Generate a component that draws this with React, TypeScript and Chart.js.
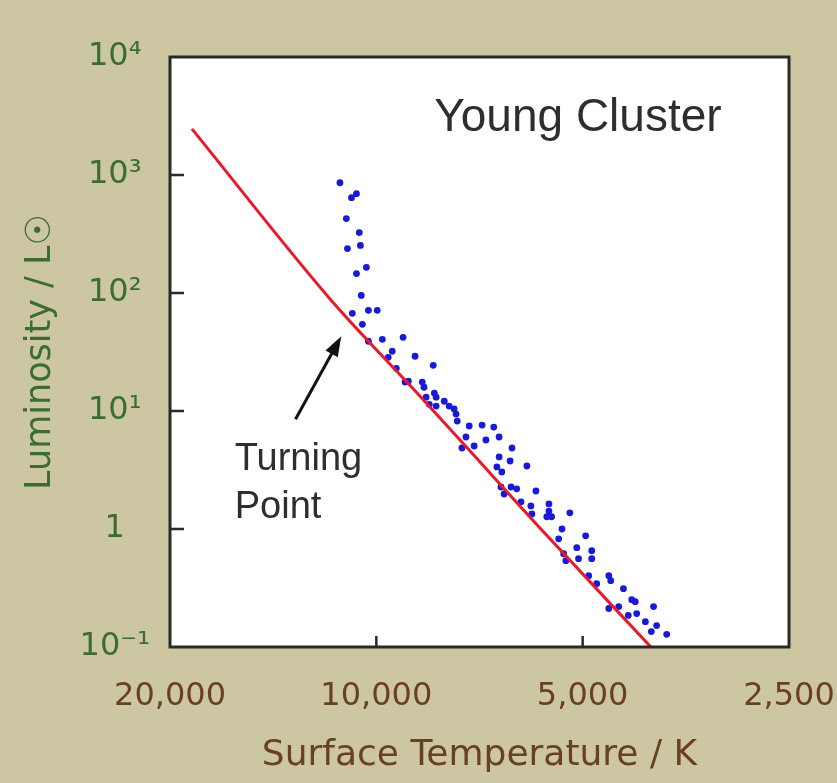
import React, { useEffect, useRef } from "react";
import { Chart, registerables } from "chart.js";

Chart.register(...registerables);

// Cluster stars: surface temperature (K) and luminosity (L_sun)
const STAR_TEMPS = [
  11300, 10870, 10690, 11060, 10590, 11020, 10550, 10690, 10340, 10520, 10840, 10270, 9970, 10480, 10270,
  9800, 9140, 9480, 9610, 8780, 9350, 8260, 8980, 9080, 8570, 8520, 8230, 8180, 7960, 8370, 8460, 8180,
  7830, 7700, 7650, 7620, 7320, 7010, 6740, 7400, 6920, 6620, 7500, 7200, 6340, 6620, 6380, 6030, 6670,
  6560, 6580, 6360, 6240, 5850, 6510, 6150, 5950, 5600, 5930, 5600, 5640, 5550, 5220, 5360, 5420, 4950,
  5100, 5330, 4850, 5070, 4850, 5290, 4900, 4580, 4770, 4550, 4360, 4240, 4190, 3940, 4580, 4430, 4290,
  4170, 4050, 3900, 3970, 3770,
];
const STAR_LUMS = [
  860, 643, 695, 427, 325, 238, 253, 146, 165, 95.4, 67.2, 71.3, 71.3, 54.3, 39.0,
  40.5, 42.1, 32.1, 28.5, 29.1, 23.0, 24.4, 17.9, 17.6, 17.6, 15.9, 14.2, 13.1, 12.1, 11.4, 13.1, 11.0,
  11.0, 10.4, 9.41, 8.22, 7.46, 7.6, 7.31, 6.02, 5.68, 6.02, 4.86, 5.05, 4.86, 4.08, 3.77, 3.42, 3.36,
  3.04, 2.27, 2.27, 2.19, 2.1, 1.98, 1.7, 1.57, 1.63, 1.34, 1.42, 1.27, 1.27, 1.37, 1.0, 0.826, 0.876,
  0.694, 0.617, 0.654, 0.56, 0.56, 0.539, 0.402, 0.402, 0.344, 0.365, 0.312, 0.252, 0.242, 0.22, 0.212, 0.22, 0.185,
  0.192, 0.164, 0.152, 0.135, 0.128,
];

// Main sequence (red curve)
const ZAMS_TEMPS = [18580, 11700, 8660, 7080, 5790, 3930];
const ZAMS_LUMS = [2460, 90, 13.6, 3.77, 1.04, 0.093];

const X_TICKS = [20000, 10000, 5000, 2500];
const X_TICK_LABELS = ["20,000", "10,000", "5,000", "2,500"];
const Y_TICKS = [0.1, 1, 10, 100, 1000, 10000];
const Y_TICK_LABELS = ["10⁻¹", "1", "10¹", "10²", "10³", "10⁴"];

const X_TITLE = "Surface Temperature / K";
const Y_TITLE = "Luminosity / L☉";
const CLUSTER_LABEL = "Young Cluster";
const CLUSTER_LABEL_AT = [8230, 2370];
const NOTE_LINES = ["Turning", "Point"];
const NOTE_AT_T = 16090;
const NOTE_AT_L = [3.17, 1.24];
const ARROW_FROM = [13120, 8.5];
const ARROW_TO = [11250, 43];

const BG = "#ccc7a2";
const GREEN = "#3b6c32";
const BROWN = "#6a3f22";

const decorPlugin = {
  id: "decor",
  beforeDraw(chart: any) {
    const { ctx, chartArea: a } = chart;
    ctx.save();
    ctx.fillStyle = BG;
    ctx.fillRect(0, 0, chart.width, chart.height);
    ctx.fillStyle = "#ffffff";
    ctx.fillRect(a.left, a.top, a.right - a.left, a.bottom - a.top);
    ctx.restore();
  },
  afterDraw(chart: any) {
    const { ctx, chartArea: a, scales } = chart;
    const xs = scales.x;
    const ys = scales.y;
    ctx.save();
    // frame
    ctx.strokeStyle = "#2a2a2a";
    ctx.lineWidth = 3;
    ctx.strokeRect(a.left, a.top, a.right - a.left, a.bottom - a.top);
    // inward ticks
    ctx.lineWidth = 2.5;
    ctx.beginPath();
    Y_TICKS.slice(1, -1).forEach((v) => {
      const y = ys.getPixelForValue(v);
      ctx.moveTo(a.left, y);
      ctx.lineTo(a.left + 14, y);
    });
    X_TICKS.slice(1, -1).forEach((v) => {
      const x = xs.getPixelForValue(v);
      ctx.moveTo(x, a.bottom);
      ctx.lineTo(x, a.bottom - 11);
    });
    ctx.stroke();

    // arrow
    const x0 = xs.getPixelForValue(ARROW_FROM[0]);
    const y0 = ys.getPixelForValue(ARROW_FROM[1]);
    const x1 = xs.getPixelForValue(ARROW_TO[0]);
    const y1 = ys.getPixelForValue(ARROW_TO[1]);
    const ang = Math.atan2(y1 - y0, x1 - x0);
    const headLen = 20;
    const headW = 7;
    const bx = x1 - headLen * Math.cos(ang);
    const by = y1 - headLen * Math.sin(ang);
    ctx.strokeStyle = "#111";
    ctx.fillStyle = "#111";
    ctx.lineWidth = 3;
    ctx.beginPath();
    ctx.moveTo(x0, y0);
    ctx.lineTo(bx, by);
    ctx.stroke();
    ctx.beginPath();
    ctx.moveTo(x1, y1);
    ctx.lineTo(bx + headW * Math.sin(ang), by - headW * Math.cos(ang));
    ctx.lineTo(bx - headW * Math.sin(ang), by + headW * Math.cos(ang));
    ctx.closePath();
    ctx.fill();

    // texts
    ctx.textBaseline = "alphabetic";
    ctx.textAlign = "left";
    ctx.fillStyle = "#2e2e2e";
    ctx.font = "46px 'Liberation Sans', Arial, sans-serif";
    ctx.fillText(CLUSTER_LABEL, xs.getPixelForValue(CLUSTER_LABEL_AT[0]), ys.getPixelForValue(CLUSTER_LABEL_AT[1]));
    ctx.font = "38px 'Liberation Sans', Arial, sans-serif";
    NOTE_LINES.forEach((t, i) => {
      ctx.fillText(t, xs.getPixelForValue(NOTE_AT_T), ys.getPixelForValue(NOTE_AT_L[i]));
    });
    ctx.restore();
  },
};

export default function App() {
  const ref = useRef<HTMLCanvasElement | null>(null);
  useEffect(() => {
    if (!ref.current) return;
    const chart = new Chart(ref.current, {
      type: "scatter",
      data: {
        datasets: [
          {
            label: "Stars",
            data: STAR_TEMPS.map((t, i) => ({ x: t, y: STAR_LUMS[i] })),
            pointRadius: 3.4,
            pointHoverRadius: 3.4,
            backgroundColor: "#1a1ad6",
            borderWidth: 0,
            order: 2,
          },
          {
            label: "Main sequence",
            data: ZAMS_TEMPS.map((t, i) => ({ x: t, y: ZAMS_LUMS[i] })),
            showLine: true,
            borderColor: "#e8192a",
            borderWidth: 3,
            pointRadius: 0,
            cubicInterpolationMode: "monotone",
            order: 1,
          } as any,
        ],
      },
      options: {
        animation: false,
        responsive: false,
        devicePixelRatio: 1,
        events: [],
        layout: { padding: { top: 57, right: 48, left: 0, bottom: 0 } },
        plugins: { legend: { display: false }, tooltip: { enabled: false } },
        scales: {
          x: {
            type: "logarithmic",
            reverse: true,
            min: 2500,
            max: 20000,
            afterBuildTicks: (s: any) => {
              s.ticks = X_TICKS.map((v) => ({ value: v }));
            },
            afterFit: (s: any) => {
              s.height = 136;
              s.paddingLeft = 0;
              s.paddingRight = 0;
            },
            grid: { display: false, drawTicks: false },
            border: { display: false },
            ticks: {
              autoSkip: false,
              maxRotation: 0,
              padding: 30,
              color: BROWN,
              font: { family: "'DejaVu Sans', Verdana, sans-serif", size: 32 },
              callback: (_v: any, i: number) => X_TICK_LABELS[i],
            },
            title: {
              display: true,
              text: X_TITLE,
              color: BROWN,
              font: { family: "'DejaVu Sans', Verdana, sans-serif", size: 36 },
              padding: { top: 0, bottom: 6 },
            },
          },
          y: {
            type: "logarithmic",
            min: 0.1,
            max: 10000,
            afterBuildTicks: (s: any) => {
              s.ticks = Y_TICKS.map((v) => ({ value: v }));
            },
            afterFit: (s: any) => {
              s.width = 170;
              s.paddingTop = 0;
              s.paddingBottom = 0;
            },
            grid: { display: false, drawTicks: false },
            border: { display: false },
            ticks: {
              autoSkip: false,
              padding: 20,
              crossAlign: "center",
              color: GREEN,
              font: { family: "'DejaVu Sans', Verdana, sans-serif", size: 32 },
              callback: (_v: any, i: number) => Y_TICK_LABELS[i],
            },
            title: {
              display: true,
              text: Y_TITLE,
              color: GREEN,
              font: { family: "'DejaVu Sans', Verdana, sans-serif", size: 35 },
              padding: { top: 20, bottom: 0 },
            },
          },
        },
      } as any,
      plugins: [decorPlugin],
    });
    return () => chart.destroy();
  }, []);

  return (
    <div style={{ position: "fixed", left: 0, top: 0, width: 837, height: 783, background: BG }}>
      <canvas ref={ref} width={837} height={783} style={{ width: 837, height: 783, display: "block" }} />
    </div>
  );
}
